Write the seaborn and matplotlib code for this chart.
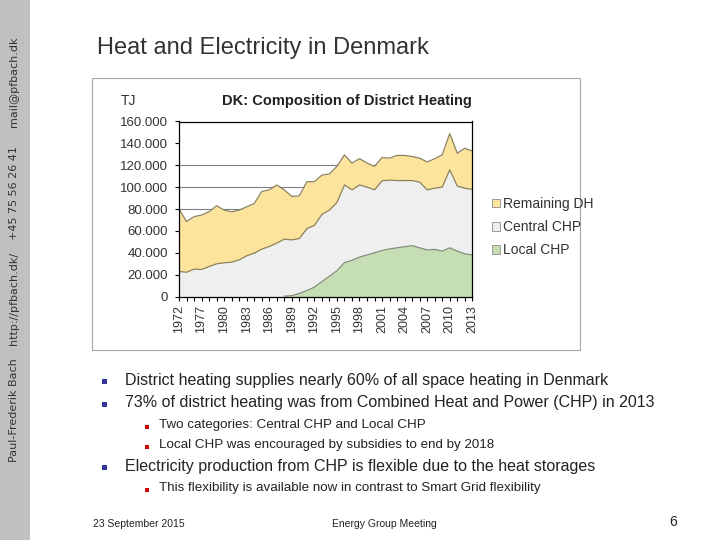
import matplotlib
matplotlib.use("Agg")
import pandas as pd
import matplotlib.pyplot as plt
from matplotlib.patches import Rectangle, Patch
import seaborn as sns


# DK district heating composition, TJ
years = [1972, 1975, 1976, 1977, 1978, 1979, 1980, 1981, 1982, 1983,
         1984, 1985, 1986, 1987, 1988, 1989, 1990, 1991, 1992, 1993,
         1994, 1995, 1996, 1997, 1998, 1999, 2000, 2001, 2002, 2003,
         2004, 2005, 2006, 2007, 2008, 2009, 2010, 2011, 2012, 2013]
local_chp = [0, 0, 0, 0, 0, 0, 0, 0, 0, 0,
             0, 0, 0, 0, 300, 800, 2700, 5500, 8500, 13500,
             18500, 23500, 31000, 33000, 36000, 38000, 40000, 42000, 43500, 44500,
             45500, 46500, 44500, 42500, 43000, 41500, 44500, 41500, 39000, 38000]
central_chp = [22900, 22200, 25000, 24700, 27400, 29900, 30800, 31400, 33500, 37200,
               39600, 43300, 45700, 48800, 52100, 51000, 50300, 56500, 56500, 61500,
               60500, 62500, 71000, 64500, 66000, 62000, 57500, 63800, 62900, 61500,
               60500, 59500, 60000, 55000, 56000, 58500, 71300, 59500, 60000, 60000]
remaining_dh = [57100, 46300, 48000, 49800, 50100, 53100, 48200, 46100, 45500, 44800,
                45400, 52700, 51800, 53200, 45100, 39700, 39000, 43000, 40000, 36000,
                33000, 33000, 27500, 24500, 24000, 22000, 21500, 21200, 20100, 23000,
                23000, 22000, 22000, 25500, 27000, 29500, 33200, 30000, 36500, 35000]
series_names = ["Remaining DH", "Central CHP", "Local CHP"]
y_ticks = [0, 20000, 40000, 60000, 80000, 100000, 120000, 140000, 160000]

df = pd.DataFrame({"year": years, "local": local_chp,
                   "central": central_chp, "remaining": remaining_dh})
df["x"] = range(len(df))
df["chp"] = df["local"] + df["central"]
df["total"] = df["chp"] + df["remaining"]

COL_REM = "#fde49c"
COL_CEN = "#efefef"
COL_LOC = "#c5deb3"
EDGE = "#8c8262"

sns.set_theme(style="white")
plt.rcParams["font.family"] = ["Liberation Sans", "DejaVu Sans"]

W, H = 720, 540
fig = plt.figure(figsize=(7.2, 5.4), dpi=100)


def fx(px):
    return px / W


def fy(py):
    return 1 - py / H


# grey sidebar with contact details
fig.patches.append(Rectangle((0, 0), fx(30), 1, transform=fig.transFigure,
                             facecolor="#c0c0c0", edgecolor="none", zorder=-2))
for txt, yc in [("Paul-Frederik Bach", 410), ("http://pfbach.dk/", 298),
                ("+45 75 56 26 41", 193), ("mail@pfbach.dk", 82)]:
    fig.text(fx(14), fy(yc), txt, rotation=90, ha="center", va="center",
             fontsize=8, color="#333333", family=["DejaVu Sans"])

fig.text(fx(97), fy(48), "Heat and Electricity in Denmark", fontsize=17,
         color="#333333", va="center", ha="left")

# chart picture frame
fig.patches.append(Rectangle((fx(92), fy(350)), fx(580 - 92), (350 - 78) / H,
                             transform=fig.transFigure, facecolor="white",
                             edgecolor="#a8a8a8", lw=0.8, zorder=-1))

ax = fig.add_axes([fx(179), fy(296.5), fx(293.3), 175 / H])
ax.set_zorder(2)
ax.set_facecolor("white")
for v in y_ticks[1:-2]:
    ax.axhline(v, color="#808080", lw=0.8, zorder=0)

ax.fill_between(df["x"], 0, df["local"], color=COL_LOC, lw=0, zorder=1)
ax.fill_between(df["x"], df["local"], df["chp"], color=COL_CEN, lw=0, zorder=1)
ax.fill_between(df["x"], df["chp"], df["total"], color=COL_REM, lw=0, zorder=1)
sns.lineplot(data=df, x="x", y="total", color=EDGE, lw=0.9, ax=ax, zorder=2)
sns.lineplot(data=df, x="x", y="chp", color=EDGE, lw=0.9, ax=ax, zorder=2)
sns.lineplot(data=df[df["local"] > 0], x="x", y="local", color="#7f8c74",
             lw=0.9, ax=ax, zorder=2)

ax.set_xlim(0, len(df) - 1)
ax.set_ylim(0, 160000)
ax.set_xlabel("")
ax.set_ylabel("")
ax.set_yticks(y_ticks)
ax.set_yticklabels([f"{v:,.0f}".replace(",", ".") for v in y_ticks],
                   fontsize=9.5, color="#333333")
ax.set_xticks(df["x"])
ax.set_xticklabels([str(y) if i % 3 == 0 else "" for i, y in enumerate(years)],
                   rotation=90, fontsize=9, color="#333333")
ax.tick_params(axis="both", direction="out", length=3, width=0.8,
               color="black", bottom=True, left=True, pad=3)
ax.tick_params(axis="y", pad=5)
for s in ax.spines.values():
    s.set_color("black")
    s.set_linewidth(0.9)
    s.set_visible(True)

fig.text(fx(121), fy(101), "TJ", fontsize=10, color="#333333", va="center")
fig.text(fx(347), fy(101), "DK: Composition of District Heating", fontsize=10.5,
         weight="bold", color="#222222", ha="center", va="center")

handles = [Patch(facecolor=c, edgecolor="#8c8c8c", lw=0.6)
           for c in [COL_REM, COL_CEN, COL_LOC]]
fig.legend(handles, series_names, loc="center left",
           bbox_to_anchor=(fx(479), fy(227)), frameon=False, fontsize=10,
           handlelength=0.6, handleheight=0.6, handletextpad=0.25,
           labelspacing=0.65, labelcolor="#333333")

# bullet text
body = [(1, 380, "District heating supplies nearly 60% of all space heating in Denmark"),
        (1, 403, "73% of district heating was from Combined Heat and Power (CHP) in 2013"),
        (2, 425, "Two categories: Central CHP and Local CHP"),
        (2, 445, "Local CHP was encouraged by subsidies to end by 2018"),
        (1, 466, "Electricity production from CHP is flexible due to the heat storages"),
        (2, 488, "This flexibility is available now in contrast to Smart Grid flexibility")]
for level, yc, txt in body:
    if level == 1:
        bx, tx, size, col, fs = 101.5, 125, 5, "#333399", 11.5
    else:
        bx, tx, size, col, fs = 145, 159, 4, "#cc0000", 9.6
    fig.patches.append(Rectangle((fx(bx), fy(yc + 4)), fx(size), size / H,
                                 transform=fig.transFigure, facecolor=col,
                                 edgecolor="none"))
    fig.text(fx(tx), fy(yc), txt, fontsize=fs, color="#222222", va="center")

fig.text(fx(93), fy(524), "23 September 2015", fontsize=7.5, color="#222222",
         va="center")
fig.text(fx(384), fy(524), "Energy Group Meeting", fontsize=7.5, color="#222222",
         va="center", ha="center")
fig.text(fx(677), fy(522), "6", fontsize=10, color="#222222", va="center",
         ha="right")

fig.savefig("out.png", dpi=100)
